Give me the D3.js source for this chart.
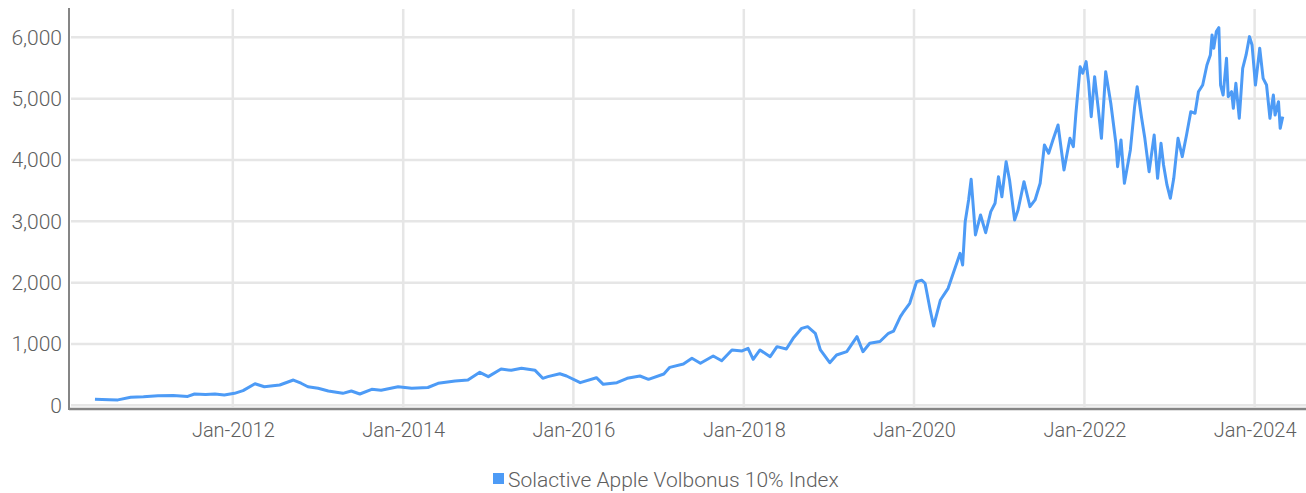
<!DOCTYPE html>
<html>
  <head>
    <meta charset="utf-8">
    <title>Solactive Apple Volbonus 10% Index</title>
    <script src="https://d3js.org/d3.v7.min.js"></script>
    <style>
      body { margin: 0; background: #fff; }
      text { font-family: Roboto, "Noto Sans", sans-serif; font-weight: 300; fill: #5e5e5e; }
    </style>
  </head>
  <body>
    <script>
      // decimal year of each reading, and the index level
      var yearFrac = [2010.38, 2010.55, 2010.65, 2010.80, 2010.95, 2011.12, 2011.30, 2011.47, 2011.55, 2011.68,
        2011.79, 2011.90, 2012.02, 2012.12, 2012.26, 2012.37, 2012.47, 2012.55, 2012.71, 2012.80,
        2012.88, 2013.00, 2013.12, 2013.29, 2013.39, 2013.49, 2013.63, 2013.74, 2013.94, 2014.10,
        2014.29, 2014.41, 2014.61, 2014.76, 2014.90, 2015.00, 2015.15, 2015.27, 2015.39, 2015.55,
        2015.64, 2015.70, 2015.84, 2015.92, 2016.08, 2016.27, 2016.35, 2016.51, 2016.63, 2016.78,
        2016.88, 2017.06, 2017.13, 2017.29, 2017.39, 2017.49, 2017.64, 2017.74, 2017.86, 2017.98,
        2018.05, 2018.11, 2018.19, 2018.31, 2018.39, 2018.50, 2018.58, 2018.68, 2018.75, 2018.84,
        2018.90, 2019.01, 2019.09, 2019.21, 2019.33, 2019.40, 2019.48, 2019.60, 2019.70, 2019.76,
        2019.84, 2019.87, 2019.95, 2020.03, 2020.09, 2020.13, 2020.19, 2020.23, 2020.31, 2020.40,
        2020.46, 2020.54, 2020.57, 2020.60, 2020.64, 2020.67, 2020.72, 2020.78, 2020.84, 2020.90,
        2020.95, 2020.99, 2021.03, 2021.08, 2021.12, 2021.18, 2021.22, 2021.29, 2021.36, 2021.42,
        2021.48, 2021.53, 2021.58, 2021.63, 2021.69, 2021.76, 2021.83, 2021.87, 2021.90, 2021.95,
        2021.98, 2022.02, 2022.05, 2022.08, 2022.12, 2022.16, 2022.20, 2022.25, 2022.31, 2022.37,
        2022.39, 2022.43, 2022.47, 2022.54, 2022.59, 2022.62, 2022.67, 2022.71, 2022.76, 2022.82,
        2022.86, 2022.90, 2022.93, 2022.97, 2023.01, 2023.05, 2023.10, 2023.15, 2023.20, 2023.25,
        2023.30, 2023.34, 2023.39, 2023.44, 2023.48, 2023.50, 2023.52, 2023.55, 2023.58, 2023.60,
        2023.63, 2023.67, 2023.69, 2023.73, 2023.75, 2023.78, 2023.82, 2023.86, 2023.90, 2023.94,
        2023.97, 2024.01, 2024.06, 2024.10, 2024.14, 2024.18, 2024.22, 2024.24, 2024.28, 2024.30,
        2024.33];

      var indexValues = [100, 92, 88, 130, 140, 157, 160, 145, 184, 178,
        186, 168, 195, 240, 352, 303, 320, 331, 412, 360,
        303, 277, 233, 195, 233, 184, 260, 245, 303, 277,
        290, 358, 396, 412, 538, 467, 592, 570, 603, 570,
        440, 467, 515, 478, 369, 450, 342, 369, 440, 478,
        424, 510, 619, 673, 766, 685, 804, 727, 902, 887,
        929, 750, 902, 793, 956, 918, 1092, 1255, 1282, 1174,
        902, 695, 820, 874, 1119, 874, 1011, 1040, 1174, 1210,
        1445, 1510, 1663, 2015, 2040, 1990, 1554, 1293, 1717, 1907,
        2152, 2478, 2288, 2994, 3348, 3685, 2777, 3103, 2814, 3157,
        3294, 3728, 3401, 3972, 3674, 3021, 3184, 3646, 3239, 3348,
        3620, 4245, 4110, 4326, 4570, 3837, 4353, 4217, 4761, 5521,
        5413, 5603, 5250, 4706, 5358, 4869, 4353, 5440, 4924, 4272,
        3891, 4326, 3620, 4163, 4869, 5195, 4706, 4353, 3809, 4407,
        3701, 4272, 3918, 3592, 3375, 3701, 4353, 4054, 4407, 4787,
        4761, 5113, 5222, 5548, 5712, 6038, 5821, 6092, 6157, 5222,
        5059, 5658, 5032, 5113, 4843, 5250, 4680, 5494, 5712, 6011,
        5875, 5222, 5821, 5331, 5222, 4680, 5059, 4733, 4950, 4516,
        4706];

      var xTickYears = [2012, 2014, 2016, 2018, 2020, 2022, 2024];
      var yTickValues = [0, 1000, 2000, 3000, 4000, 5000, 6000];
      var seriesName = "Solactive Apple Volbonus 10% Index";

      var width = 1306, height = 493;
      var plotLeft = 69, plotRight = 1306, plotTop = 8, axisY = 409;

      function toDate(yf) {
        var y = Math.floor(yf);
        var start = new Date(y, 0, 1), end = new Date(y + 1, 0, 1);
        return new Date(+start + (yf - y) * (end - start));
      }

      var data = yearFrac.map(function(t, i) { return { date: toDate(t), value: indexValues[i] }; });

      var svg = d3.select("body").append("svg").attr("width", width).attr("height", height);

      var xScale = d3.scaleTime()
        .domain([new Date(2012, 0, 1), new Date(2024, 0, 1)])
        .range([232.8, 1254.6]);

      var yScale = d3.scaleLinear()
        .domain([0, 6000])
        .range([405.3, 37.3]);

      // grid
      svg.append("g").selectAll("line")
        .data(yTickValues)
        .enter().append("line")
        .attr("x1", plotLeft + 2).attr("x2", plotRight)
        .attr("y1", function(d) { return yScale(d); })
        .attr("y2", function(d) { return yScale(d); })
        .attr("stroke", "#e6e6e6").attr("stroke-width", 2.5);

      svg.append("g").selectAll("line")
        .data(xTickYears)
        .enter().append("line")
        .attr("x1", function(d) { return xScale(new Date(d, 0, 1)); })
        .attr("x2", function(d) { return xScale(new Date(d, 0, 1)); })
        .attr("y1", plotTop + 1).attr("y2", axisY - 2)
        .attr("stroke", "#e6e6e6").attr("stroke-width", 2.5);

      // series
      var line = d3.line()
        .x(function(d) { return xScale(d.date); })
        .y(function(d) { return yScale(d.value); });

      svg.append("path")
        .datum(data)
        .attr("fill", "none")
        .attr("stroke", "#4d9bf6")
        .attr("stroke-width", 3)
        .attr("stroke-linejoin", "round")
        .attr("d", line);

      // axes
      var axisX = d3.axisBottom(xScale)
        .tickValues(xTickYears.map(function(y) { return new Date(y, 0, 1); }))
        .tickFormat(d3.timeFormat("%b-%Y"))
        .tickSize(0).tickPadding(14);
      var gx = svg.append("g").attr("transform", "translate(0," + axisY + ")").call(axisX);
      gx.select(".domain").remove();
      gx.selectAll("text").style("font-size", "20px");

      var axisY2 = d3.axisLeft(yScale)
        .tickValues(yTickValues)
        .tickFormat(d3.format(","))
        .tickSize(0).tickPadding(7);
      var gy = svg.append("g").attr("transform", "translate(" + plotLeft + ",0)").call(axisY2);
      gy.select(".domain").remove();
      gy.selectAll("text").style("font-size", "21px");

      svg.append("line")
        .attr("x1", plotLeft).attr("x2", plotLeft)
        .attr("y1", plotTop).attr("y2", axisY + 1)
        .attr("stroke", "#858585").attr("stroke-width", 2);
      svg.append("line")
        .attr("x1", plotLeft).attr("x2", plotRight)
        .attr("y1", axisY).attr("y2", axisY)
        .attr("stroke", "#858585").attr("stroke-width", 2.5);

      // legend
      var legend = svg.append("g").attr("transform", "translate(493,473)");
      legend.append("rect").attr("width", 11).attr("height", 11).attr("fill", "#4d9bf6");
      legend.append("text").attr("x", 15).attr("y", 13.5).style("font-size", "21px").text(seriesName);
    </script>
  </body>
</html>
